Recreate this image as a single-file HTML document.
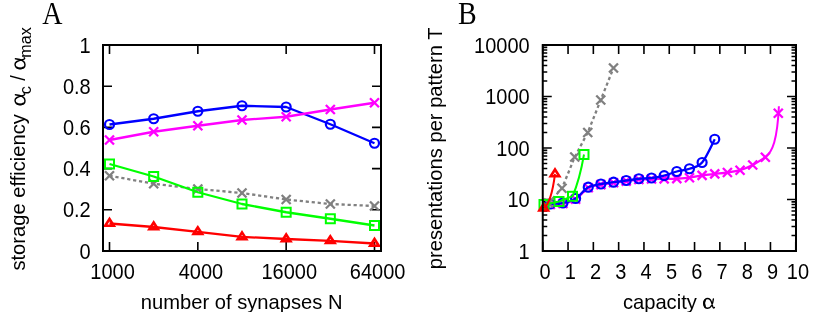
<!DOCTYPE html>
<html><head><meta charset="utf-8"><title>figure</title>
<style>html,body{margin:0;padding:0;background:#fff;}svg{display:block;will-change:transform;}text{font-family:"Liberation Sans",sans-serif;font-size:20px;fill:#000;}.ser{font-family:"Liberation Serif",serif;font-size:28px;}.sub{font-size:16.14px;}.ttl{font-size:20.17px;}</style></head><body>
<svg width="830" height="312" viewBox="0 0 830 312">
<rect x="0" y="0" width="830" height="312" fill="#ffffff"/>
<g id="panelA">
<path d="M109.5,251 v-9 M109.5,45 v9 M197.83,251 v-9 M197.83,45 v9 M286.16,251 v-9 M286.16,45 v9 M374.49,251 v-9 M374.49,45 v9 M103,251 h9 M381,251 h-9 M103,209.8 h9 M381,209.8 h-9 M103,168.6 h9 M381,168.6 h-9 M103,127.4 h9 M381,127.4 h-9 M103,86.2 h9 M381,86.2 h-9 M103,45 h9 M381,45 h-9" stroke="#000" stroke-width="1.6" fill="none"/>
<path d="M109.5,223.5 L153.67,227 L197.83,231.8 L242,236.9 L286.17,239 L330.34,240.8 L374.5,243.5" fill="none" stroke="#ff0000" stroke-width="2.3" stroke-linejoin="round"/>
<path d="M109.5,219 L105.2,225.7 L113.8,225.7 Z" fill="none" stroke="#ff0000" stroke-width="2.6" stroke-linejoin="miter"/>
<path d="M153.67,222.5 L149.37,229.2 L157.97,229.2 Z" fill="none" stroke="#ff0000" stroke-width="2.6" stroke-linejoin="miter"/>
<path d="M197.83,227.3 L193.53,234 L202.13,234 Z" fill="none" stroke="#ff0000" stroke-width="2.6" stroke-linejoin="miter"/>
<path d="M242,232.4 L237.7,239.1 L246.3,239.1 Z" fill="none" stroke="#ff0000" stroke-width="2.6" stroke-linejoin="miter"/>
<path d="M286.17,234.5 L281.87,241.2 L290.47,241.2 Z" fill="none" stroke="#ff0000" stroke-width="2.6" stroke-linejoin="miter"/>
<path d="M330.34,236.3 L326.04,243 L334.64,243 Z" fill="none" stroke="#ff0000" stroke-width="2.6" stroke-linejoin="miter"/>
<path d="M374.5,239 L370.2,245.7 L378.8,245.7 Z" fill="none" stroke="#ff0000" stroke-width="2.6" stroke-linejoin="miter"/>
<path d="M109.5,175.75 L153.67,183.75 L197.83,189 L242,193 L286.17,199.5 L330.34,204 L374.5,206" fill="none" stroke="#808080" stroke-width="2.3" stroke-linejoin="round" stroke-dasharray="3.2 2.8"/>
<path d="M105,171.25 l9,9 M105,180.25 l9,-9 M149.17,179.25 l9,9 M149.17,188.25 l9,-9 M193.33,184.5 l9,9 M193.33,193.5 l9,-9 M237.5,188.5 l9,9 M237.5,197.5 l9,-9 M281.67,195 l9,9 M281.67,204 l9,-9 M325.84,199.5 l9,9 M325.84,208.5 l9,-9 M370,201.5 l9,9 M370,210.5 l9,-9" fill="none" stroke="#808080" stroke-width="2.3"/>
<path d="M109.5,164 L153.67,176.5 L197.83,192.25 L242,204 L286.17,212.25 L330.34,218.75 L374.5,225.5" fill="none" stroke="#00ff00" stroke-width="2.3" stroke-linejoin="round"/>
<rect x="105" y="159.5" width="9" height="9" fill="none" stroke="#00ff00" stroke-width="2"/>
<rect x="149.17" y="172" width="9" height="9" fill="none" stroke="#00ff00" stroke-width="2"/>
<rect x="193.33" y="187.75" width="9" height="9" fill="none" stroke="#00ff00" stroke-width="2"/>
<rect x="237.5" y="199.5" width="9" height="9" fill="none" stroke="#00ff00" stroke-width="2"/>
<rect x="281.67" y="207.75" width="9" height="9" fill="none" stroke="#00ff00" stroke-width="2"/>
<rect x="325.84" y="214.25" width="9" height="9" fill="none" stroke="#00ff00" stroke-width="2"/>
<rect x="370" y="221" width="9" height="9" fill="none" stroke="#00ff00" stroke-width="2"/>
<path d="M109.5,124.5 L153.67,118.75 L197.83,111.25 L242,105.75 L286.17,107 L330.34,124.25 L374.5,143.25" fill="none" stroke="#0000ff" stroke-width="2.3" stroke-linejoin="round"/>
<circle cx="109.5" cy="124.5" r="4.5" fill="none" stroke="#0000ff" stroke-width="2.2"/>
<circle cx="153.67" cy="118.75" r="4.5" fill="none" stroke="#0000ff" stroke-width="2.2"/>
<circle cx="197.83" cy="111.25" r="4.5" fill="none" stroke="#0000ff" stroke-width="2.2"/>
<circle cx="242" cy="105.75" r="4.5" fill="none" stroke="#0000ff" stroke-width="2.2"/>
<circle cx="286.17" cy="107" r="4.5" fill="none" stroke="#0000ff" stroke-width="2.2"/>
<circle cx="330.34" cy="124.25" r="4.5" fill="none" stroke="#0000ff" stroke-width="2.2"/>
<circle cx="374.5" cy="143.25" r="4.5" fill="none" stroke="#0000ff" stroke-width="2.2"/>
<path d="M109.5,140 L153.67,131.75 L197.83,125.75 L242,120 L286.17,116.75 L330.34,109.5 L374.5,102.75" fill="none" stroke="#ff00ff" stroke-width="2.3" stroke-linejoin="round"/>
<path d="M105,135.5 l9,9 M105,144.5 l9,-9 M149.17,127.25 l9,9 M149.17,136.25 l9,-9 M193.33,121.25 l9,9 M193.33,130.25 l9,-9 M237.5,115.5 l9,9 M237.5,124.5 l9,-9 M281.67,112.25 l9,9 M281.67,121.25 l9,-9 M325.84,105 l9,9 M325.84,114 l9,-9 M370,98.25 l9,9 M370,107.25 l9,-9" fill="none" stroke="#ff00ff" stroke-width="2.3"/>
<rect x="103" y="45" width="278" height="206" fill="none" stroke="#000" stroke-width="2"/>
<text transform="translate(90.7,258.5) scale(1,1.07)" text-anchor="end">0</text>
<text transform="translate(90.7,217.3) scale(1,1.07)" text-anchor="end">0.2</text>
<text transform="translate(90.7,176.1) scale(1,1.07)" text-anchor="end">0.4</text>
<text transform="translate(90.7,134.9) scale(1,1.07)" text-anchor="end">0.6</text>
<text transform="translate(90.7,93.7) scale(1,1.07)" text-anchor="end">0.8</text>
<text transform="translate(90.7,52.5) scale(1,1.07)" text-anchor="end">1</text>
<text transform="translate(112.6,278.6) scale(1,1.07)" text-anchor="middle">1000</text>
<text transform="translate(200.93,278.6) scale(1,1.07)" text-anchor="middle">4000</text>
<text transform="translate(289.26,278.6) scale(1,1.07)" text-anchor="middle">16000</text>
<text transform="translate(377.59,278.6) scale(1,1.07)" text-anchor="middle">64000</text>
<text class="ttl" x="140.8" y="308.6">number of synapses N</text>
<g transform="translate(25.4,270.6) rotate(-90)">
<text class="ttl" x="0" y="0">storage efficiency</text>
<g transform="translate(165.2,0) scale(1.03)" fill="none" stroke="#000" stroke-linecap="round"><path d="M10.3,-9.7 C9.9,-6 8.3,-0.4 4.6,-0.4 C1.9,-0.4 0.85,-2.7 0.85,-5.2 C0.85,-8 2.3,-10.05 4.9,-10.05 C8,-10.05 8.8,-5.5 9.4,-2.7 C9.8,-0.9 10.5,-0.2 11.3,-1.1" stroke-width="1.4"/><path d="M1.9,-8.2 C0.75,-6.5 0.75,-3.9 1.9,-2.2" stroke-width="1.9"/></g>
<text class="sub" x="176.4" y="5.85">c</text>
<text class="ttl" x="189.9" y="0">/</text>
<g transform="translate(201.2,0) scale(1.03)" fill="none" stroke="#000" stroke-linecap="round"><path d="M10.3,-9.7 C9.9,-6 8.3,-0.4 4.6,-0.4 C1.9,-0.4 0.85,-2.7 0.85,-5.2 C0.85,-8 2.3,-10.05 4.9,-10.05 C8,-10.05 8.8,-5.5 9.4,-2.7 C9.8,-0.9 10.5,-0.2 11.3,-1.1" stroke-width="1.4"/><path d="M1.9,-8.2 C0.75,-6.5 0.75,-3.9 1.9,-2.2" stroke-width="1.9"/></g>
<text class="sub" x="212.9" y="5.85">max</text>
</g>
<text class="ser" transform="translate(42.2,23.6) scale(1,1.11)">A</text>
</g>
<g id="panelB">
<path d="M542.75,251 v-9 M542.75,45 v9 M568.05,251 v-9 M568.05,45 v9 M593.35,251 v-9 M593.35,45 v9 M618.65,251 v-9 M618.65,45 v9 M643.95,251 v-9 M643.95,45 v9 M669.25,251 v-9 M669.25,45 v9 M694.55,251 v-9 M694.55,45 v9 M719.85,251 v-9 M719.85,45 v9 M745.15,251 v-9 M745.15,45 v9 M770.45,251 v-9 M770.45,45 v9 M795.75,251 v-9 M795.75,45 v9 M542.75,251 h9 M796,251 h-9 M542.75,235.5 h4.5 M796,235.5 h-4.5 M542.75,226.43 h4.5 M796,226.43 h-4.5 M542.75,219.99 h4.5 M796,219.99 h-4.5 M542.75,215 h4.5 M796,215 h-4.5 M542.75,210.93 h4.5 M796,210.93 h-4.5 M542.75,207.48 h4.5 M796,207.48 h-4.5 M542.75,204.49 h4.5 M796,204.49 h-4.5 M542.75,201.86 h4.5 M796,201.86 h-4.5 M542.75,199.5 h9 M796,199.5 h-9 M542.75,184 h4.5 M796,184 h-4.5 M542.75,174.93 h4.5 M796,174.93 h-4.5 M542.75,168.49 h4.5 M796,168.49 h-4.5 M542.75,163.5 h4.5 M796,163.5 h-4.5 M542.75,159.43 h4.5 M796,159.43 h-4.5 M542.75,155.98 h4.5 M796,155.98 h-4.5 M542.75,152.99 h4.5 M796,152.99 h-4.5 M542.75,150.36 h4.5 M796,150.36 h-4.5 M542.75,148 h9 M796,148 h-9 M542.75,132.5 h4.5 M796,132.5 h-4.5 M542.75,123.43 h4.5 M796,123.43 h-4.5 M542.75,116.99 h4.5 M796,116.99 h-4.5 M542.75,112 h4.5 M796,112 h-4.5 M542.75,107.93 h4.5 M796,107.93 h-4.5 M542.75,104.48 h4.5 M796,104.48 h-4.5 M542.75,101.49 h4.5 M796,101.49 h-4.5 M542.75,98.86 h4.5 M796,98.86 h-4.5 M542.75,96.5 h9 M796,96.5 h-9 M542.75,81 h4.5 M796,81 h-4.5 M542.75,71.93 h4.5 M796,71.93 h-4.5 M542.75,65.49 h4.5 M796,65.49 h-4.5 M542.75,60.5 h4.5 M796,60.5 h-4.5 M542.75,56.43 h4.5 M796,56.43 h-4.5 M542.75,52.98 h4.5 M796,52.98 h-4.5 M542.75,49.99 h4.5 M796,49.99 h-4.5 M542.75,47.36 h4.5 M796,47.36 h-4.5 M542.75,45 h9 M796,45 h-9" stroke="#000" stroke-width="1.6" fill="none"/>
<path d="M550.3,204.5 C552.41,204.33 558.73,204.38 562.95,203.5 C567.17,202.62 571.38,201.82 575.6,199.2 C579.82,196.58 584.03,190.23 588.25,187.8 C592.47,185.37 596.68,185.43 600.9,184.6 C605.12,183.77 609.33,183.38 613.55,182.8 C617.77,182.22 621.98,181.65 626.2,181.1 C630.42,180.55 634.63,179.85 638.85,179.5 C643.07,179.15 647.28,179.1 651.5,179 C655.72,178.9 659.93,178.97 664.15,178.9 C668.37,178.83 672.58,178.8 676.8,178.6 C681.02,178.4 685.23,178.23 689.45,177.7 C693.67,177.17 697.88,176.03 702.1,175.4 C706.32,174.77 710.53,174.38 714.75,173.9 C718.97,173.42 723.18,173.12 727.4,172.5 C731.62,171.88 735.83,171.45 740.05,170.2 C744.27,168.95 748.48,167.15 752.7,165 C756.92,162.85 763.24,158.58 765.35,157.3" fill="none" stroke="#ff00ff" stroke-width="2.3" stroke-linejoin="round"/>
<path d="M765.3,157 C772.5,152 777.3,140 778.9,106.3" fill="none" stroke="#ff00ff" stroke-width="2"/>
<path d="M545.8,200 l9,9 M545.8,209 l9,-9 M558.45,199 l9,9 M558.45,208 l9,-9 M571.1,194.7 l9,9 M571.1,203.7 l9,-9 M583.75,183.3 l9,9 M583.75,192.3 l9,-9 M596.4,180.1 l9,9 M596.4,189.1 l9,-9 M609.05,178.3 l9,9 M609.05,187.3 l9,-9 M621.7,176.6 l9,9 M621.7,185.6 l9,-9 M634.35,175 l9,9 M634.35,184 l9,-9 M647,174.5 l9,9 M647,183.5 l9,-9 M659.65,174.4 l9,9 M659.65,183.4 l9,-9 M672.3,174.1 l9,9 M672.3,183.1 l9,-9 M684.95,173.2 l9,9 M684.95,182.2 l9,-9 M697.6,170.9 l9,9 M697.6,179.9 l9,-9 M710.25,169.4 l9,9 M710.25,178.4 l9,-9 M722.9,168 l9,9 M722.9,177 l9,-9 M735.55,165.7 l9,9 M735.55,174.7 l9,-9 M748.2,160.5 l9,9 M748.2,169.5 l9,-9 M760.85,152.8 l9,9 M760.85,161.8 l9,-9 M773.8,108.8 l9,9 M773.8,117.8 l9,-9" fill="none" stroke="#ff00ff" stroke-width="2.3"/>
<path d="M550.3,204 C552.41,203.83 558.73,203.92 562.95,203 C567.17,202.08 571.38,201.13 575.6,198.5 C579.82,195.87 584.03,189.62 588.25,187.2 C592.47,184.78 596.68,184.83 600.9,184 C605.12,183.17 609.33,182.78 613.55,182.2 C617.77,181.62 621.98,181.07 626.2,180.5 C630.42,179.93 634.63,179.17 638.85,178.75 C643.07,178.33 647.28,178.53 651.5,178 C655.72,177.47 659.93,176.68 664.15,175.6 C668.37,174.52 672.58,172.64 676.8,171.5 C681.02,170.36 685.23,170.25 689.45,168.75 C693.67,167.25 697.88,167.42 702.1,162.5 C706.32,157.58 712.64,143.12 714.75,139.25" fill="none" stroke="#0000ff" stroke-width="2.3" stroke-linejoin="round"/>
<circle cx="550.3" cy="204" r="4.5" fill="none" stroke="#0000ff" stroke-width="2.2"/>
<circle cx="562.95" cy="203" r="4.5" fill="none" stroke="#0000ff" stroke-width="2.2"/>
<circle cx="575.6" cy="198.5" r="4.5" fill="none" stroke="#0000ff" stroke-width="2.2"/>
<circle cx="588.25" cy="187.2" r="4.5" fill="none" stroke="#0000ff" stroke-width="2.2"/>
<circle cx="600.9" cy="184" r="4.5" fill="none" stroke="#0000ff" stroke-width="2.2"/>
<circle cx="613.55" cy="182.2" r="4.5" fill="none" stroke="#0000ff" stroke-width="2.2"/>
<circle cx="626.2" cy="180.5" r="4.5" fill="none" stroke="#0000ff" stroke-width="2.2"/>
<circle cx="638.85" cy="178.75" r="4.5" fill="none" stroke="#0000ff" stroke-width="2.2"/>
<circle cx="651.5" cy="178" r="4.5" fill="none" stroke="#0000ff" stroke-width="2.2"/>
<circle cx="664.15" cy="175.6" r="4.5" fill="none" stroke="#0000ff" stroke-width="2.2"/>
<circle cx="676.8" cy="171.5" r="4.5" fill="none" stroke="#0000ff" stroke-width="2.2"/>
<circle cx="689.45" cy="168.75" r="4.5" fill="none" stroke="#0000ff" stroke-width="2.2"/>
<circle cx="702.1" cy="162.5" r="4.5" fill="none" stroke="#0000ff" stroke-width="2.2"/>
<circle cx="714.75" cy="139.25" r="4.5" fill="none" stroke="#0000ff" stroke-width="2.2"/>
<path d="M548.5,203 L562,188.3 L574.75,157 L587.75,132.5 L600.75,100 L613.5,68" fill="none" stroke="#808080" stroke-width="2.3" stroke-linejoin="round" stroke-dasharray="3.2 2.8"/>
<path d="M544,198.5 l9,9 M544,207.5 l9,-9 M557.5,183.8 l9,9 M557.5,192.8 l9,-9 M570.25,152.5 l9,9 M570.25,161.5 l9,-9 M583.25,128 l9,9 M583.25,137 l9,-9 M596.25,95.5 l9,9 M596.25,104.5 l9,-9 M609,63.5 l9,9 M609,72.5 l9,-9" fill="none" stroke="#808080" stroke-width="2.3"/>
<path d="M544,204.5 L559,201.5 L572.5,196.3 C577,186 581,172 584,154.5" fill="none" stroke="#00ff00" stroke-width="2"/>
<rect x="539.5" y="200" width="9" height="9" fill="none" stroke="#00ff00" stroke-width="2"/>
<rect x="554.5" y="197" width="9" height="9" fill="none" stroke="#00ff00" stroke-width="2"/>
<rect x="568" y="191.8" width="9" height="9" fill="none" stroke="#00ff00" stroke-width="2"/>
<rect x="579.5" y="150" width="9" height="9" fill="none" stroke="#00ff00" stroke-width="2"/>
<path d="M543.7,208.3 Q551.3,203 555,174" fill="none" stroke="#ff0000" stroke-width="2"/>
<path d="M543.7,203.8 L539.4,210.5 L548,210.5 Z" fill="none" stroke="#ff0000" stroke-width="2.6" stroke-linejoin="miter"/>
<path d="M555,169.5 L550.7,176.2 L559.3,176.2 Z" fill="none" stroke="#ff0000" stroke-width="2.6" stroke-linejoin="miter"/>
<rect x="542.75" y="45" width="253.25" height="206" fill="none" stroke="#000" stroke-width="2"/>
<text transform="translate(529.7,258.5) scale(1,1.07)" text-anchor="end">1</text>
<text transform="translate(529.7,207) scale(1,1.07)" text-anchor="end">10</text>
<text transform="translate(529.7,155.5) scale(1,1.07)" text-anchor="end">100</text>
<text transform="translate(529.7,104) scale(1,1.07)" text-anchor="end">1000</text>
<text transform="translate(529.7,52.5) scale(1,1.07)" text-anchor="end">10000</text>
<text transform="translate(544.95,278.6) scale(1,1.07)" text-anchor="middle">0</text>
<text transform="translate(570.25,278.6) scale(1,1.07)" text-anchor="middle">1</text>
<text transform="translate(595.55,278.6) scale(1,1.07)" text-anchor="middle">2</text>
<text transform="translate(620.85,278.6) scale(1,1.07)" text-anchor="middle">3</text>
<text transform="translate(646.15,278.6) scale(1,1.07)" text-anchor="middle">4</text>
<text transform="translate(671.45,278.6) scale(1,1.07)" text-anchor="middle">5</text>
<text transform="translate(696.75,278.6) scale(1,1.07)" text-anchor="middle">6</text>
<text transform="translate(722.05,278.6) scale(1,1.07)" text-anchor="middle">7</text>
<text transform="translate(747.35,278.6) scale(1,1.07)" text-anchor="middle">8</text>
<text transform="translate(772.65,278.6) scale(1,1.07)" text-anchor="middle">9</text>
<text transform="translate(797.95,278.6) scale(1,1.07)" text-anchor="middle">10</text>
<text class="ttl" x="622.9" y="308.6">capacity</text>
<g transform="translate(703.1,308.6) scale(1)" fill="none" stroke="#000" stroke-linecap="round"><path d="M10.3,-9.7 C9.9,-6 8.3,-0.4 4.6,-0.4 C1.9,-0.4 0.85,-2.7 0.85,-5.2 C0.85,-8 2.3,-10.05 4.9,-10.05 C8,-10.05 8.8,-5.5 9.4,-2.7 C9.8,-0.9 10.5,-0.2 11.3,-1.1" stroke-width="1.4"/><path d="M1.9,-8.2 C0.75,-6.5 0.75,-3.9 1.9,-2.2" stroke-width="1.9"/></g>
<text class="ttl" transform="translate(441.75,269.2) rotate(-90)">presentations per pattern T</text>
<text class="ser" transform="translate(458.1,23.6) scale(1,1.11)">B</text>
</g>
</svg></body></html>
